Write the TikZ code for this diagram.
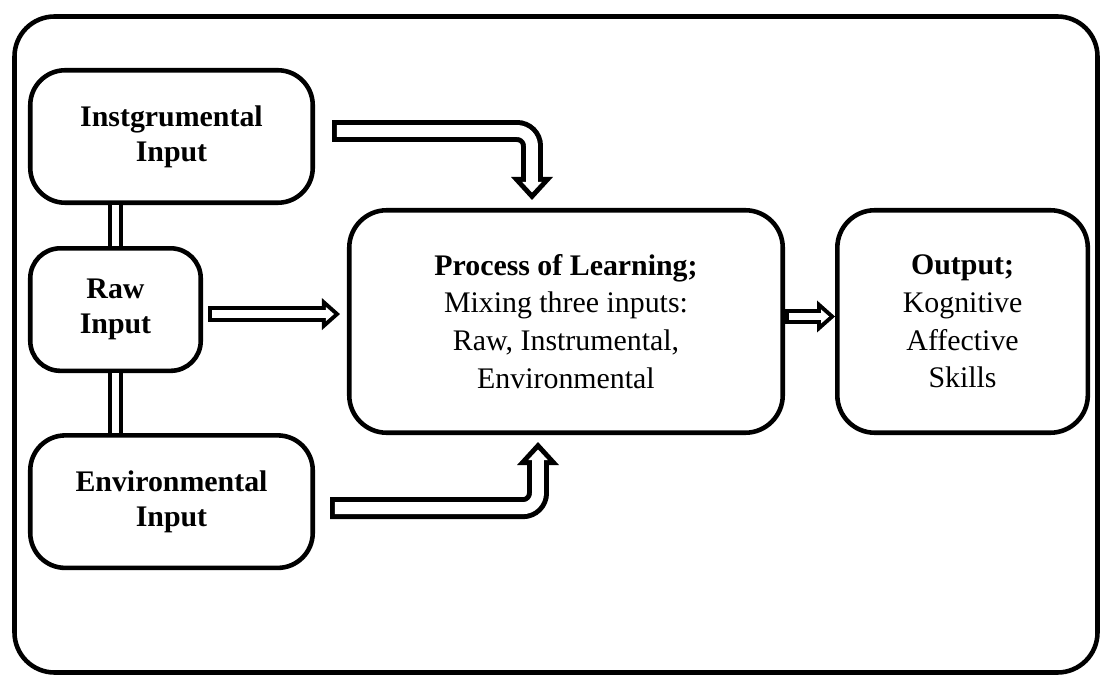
\documentclass[tikz,border=0pt]{standalone}
\usepackage{fontspec}
\setmainfont{Liberation Serif}
\usetikzlibrary{positioning,arrows.meta}

\tikzset{
  box/.style={draw, line width=2.6pt, rounded corners=0.7cm, align=center, inner sep=2pt},
  inbox/.style={box, font=\fontsize{17}{20}\selectfont\bfseries},
  bigbox/.style={box, rounded corners=0.75cm, minimum height=4.45cm, font=\fontsize{17}{21.5}\selectfont},
  frame/.style={draw, line width=2.6pt, rounded corners=0.8cm},
  link/.style={double, double distance=4pt, line width=2pt},
  bigpipe/.style={line width=12.5pt, rounded corners=0.3cm, -{Triangle[length=4.6mm,width=8.4mm,line width=0pt]}},
  bighole/.style={white, line width=6.8pt, rounded corners=0.3cm, shorten <=2.8pt, shorten >=1.5mm, -{Triangle[length=2.1mm,width=3.9mm,line width=0pt]}},
  smallpipe/.style={line width=9pt, -{Triangle[length=3.6mm,width=6.4mm,line width=0pt]}},
  smallhole/.style={white, line width=4.5pt, shorten <=2.3pt, shorten >=1.2mm, -{Triangle[length=1.6mm,width=2.8mm,line width=0pt]}}
}

\begin{document}
\begin{tikzpicture}
\useasboundingbox (0,0) rectangle (22.1,-13.54);
\draw[frame] (0.29,-0.33) rectangle (21.95,-13.45);

% inputs
\node (inst) [inbox, minimum width=5.65cm, minimum height=2.65cm] at (3.43,-2.73) {Instgrumental\\Input};
\node (raw) [inbox, minimum width=3.41cm, minimum height=2.45cm, rounded corners=0.6cm,
  below=0.82cm of inst.south west, anchor=north west] {Raw\\Input};
\node (env) [inbox, minimum width=5.65cm, minimum height=2.65cm,
  below=1.2cm of raw.south west, anchor=north west] {Environmental\\Input};

% process and output
\node (proc) [bigbox, minimum width=8.67cm] at (11.32,-6.43)
  {\textbf{Process of Learning;}\\Mixing three inputs:\\Raw, Instrumental,\\Environmental};
\node (out) [bigbox, minimum width=5.01cm, right=1.0cm of proc]
  {\textbf{Output;}\\Kognitive\\Affective\\Skills};

\draw[link] (raw.north) -- (raw.north |- inst.south);
\draw[link] (raw.south) -- (raw.south |- env.north);

% hollow arrows
\coordinate (a1) at ([xshift=0.34cm,yshift=0.11cm]inst.east);
\coordinate (a2) at ([xshift=-0.68cm,yshift=0.16cm]proc.north);
\coordinate (b1) at ([xshift=0.3cm,yshift=-0.13cm]env.east);
\coordinate (b2) at ([xshift=-0.56cm,yshift=-0.14cm]proc.south);
\draw[bigpipe] (a1) -| (a2);
\draw[bighole] (a1) -| (a2);
\draw[bigpipe] (b1) -| (b2);
\draw[bighole] (b1) -| (b2);

\coordinate (c1) at ([xshift=0.1cm,yshift=-0.09cm]raw.east);
\coordinate (c2) at ([xshift=-0.14cm]c1 -| proc.west);
\draw[smallpipe] (c1) -- (c2);
\draw[smallhole] (c1) -- (c2);

\coordinate (d1) at ([yshift=0.1cm]proc.east);
\draw[smallpipe] (d1) -- (d1 -| out.west);
\draw[smallhole] (d1) -- (d1 -| out.west);
\end{tikzpicture}
\end{document}
